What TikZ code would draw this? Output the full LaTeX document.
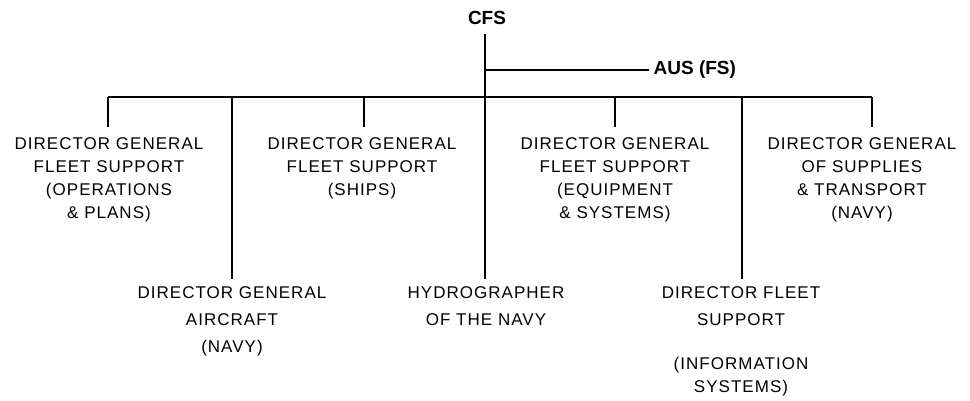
\documentclass[tikz,border=0pt]{standalone}
\usepackage{fontspec}
\setmainfont{Liberation Sans}
\newfontfamily\labfont[LetterSpace=6]{Liberation Sans}
\begin{document}
\begin{tikzpicture}[x=1pt,y=-1pt,
  line width=1.3pt,
  lab/.style={inner sep=0pt, anchor=north, align=center,
    font=\labfont\fontsize{17}{23}\selectfont},
  lablo/.style={lab, font=\labfont\fontsize{17}{27}\selectfont},
  head/.style={inner sep=0pt, font=\bfseries\fontsize{19}{22}\selectfont}]
\useasboundingbox (0,0) rectangle (970,400);
% top
\node[head] (cfs) at (487,18) {CFS};
\node[head, anchor=west] (aus) at (653,70) {AUS (FS)};
\coordinate (top) at (485,34);
\coordinate (ausj) at (485,70);
\coordinate (b1) at (108,97);
\coordinate (b2) at (232,97);
\coordinate (b3) at (364,97);
\coordinate (b4) at (485,97);
\coordinate (b5) at (615,97);
\coordinate (b6) at (742,97);
\coordinate (b7) at (872,97);
% boxes
\node[lab] (n1) at (109,137) {DIRECTOR GENERAL\\FLEET SUPPORT\\(OPERATIONS\\\& PLANS)};
\node[lab] (n3) at (362,137) {DIRECTOR GENERAL\\FLEET SUPPORT\\(SHIPS)};
\node[lab] (n5) at (615,137) {DIRECTOR GENERAL\\FLEET SUPPORT\\(EQUIPMENT\\\& SYSTEMS)};
\node[lab] (n7) at (862,137) {DIRECTOR GENERAL\\OF SUPPLIES\\\& TRANSPORT\\(NAVY)};
\node[lablo] (n2) at (232,286) {DIRECTOR GENERAL\\AIRCRAFT\\(NAVY)};
\node[lablo] (n4) at (486,286) {HYDROGRAPHER\\OF THE NAVY};
\node[lablo] (n6) at (741,286) {DIRECTOR FLEET\\SUPPORT\\[17pt](INFORMATION\\[-4pt]SYSTEMS)};
% connectors
\draw (top) -- (b4);
\draw (ausj) -- ([xshift=-4pt]aus.west);
\draw (b1) -- (b7);
\draw (b1) -- ([yshift=10pt]b1 |- n1.north);
\draw (b3) -- ([yshift=10pt]b3 |- n3.north);
\draw (b5) -- ([yshift=10pt]b5 |- n5.north);
\draw (b7) -- ([yshift=10pt]b7 |- n7.north);
\draw (b2) -- ([yshift=7pt]b2 |- n2.north);
\draw (b4) -- ([yshift=7pt]b4 |- n4.north);
\draw (b6) -- ([yshift=7pt]b6 |- n6.north);
\end{tikzpicture}
\end{document}
